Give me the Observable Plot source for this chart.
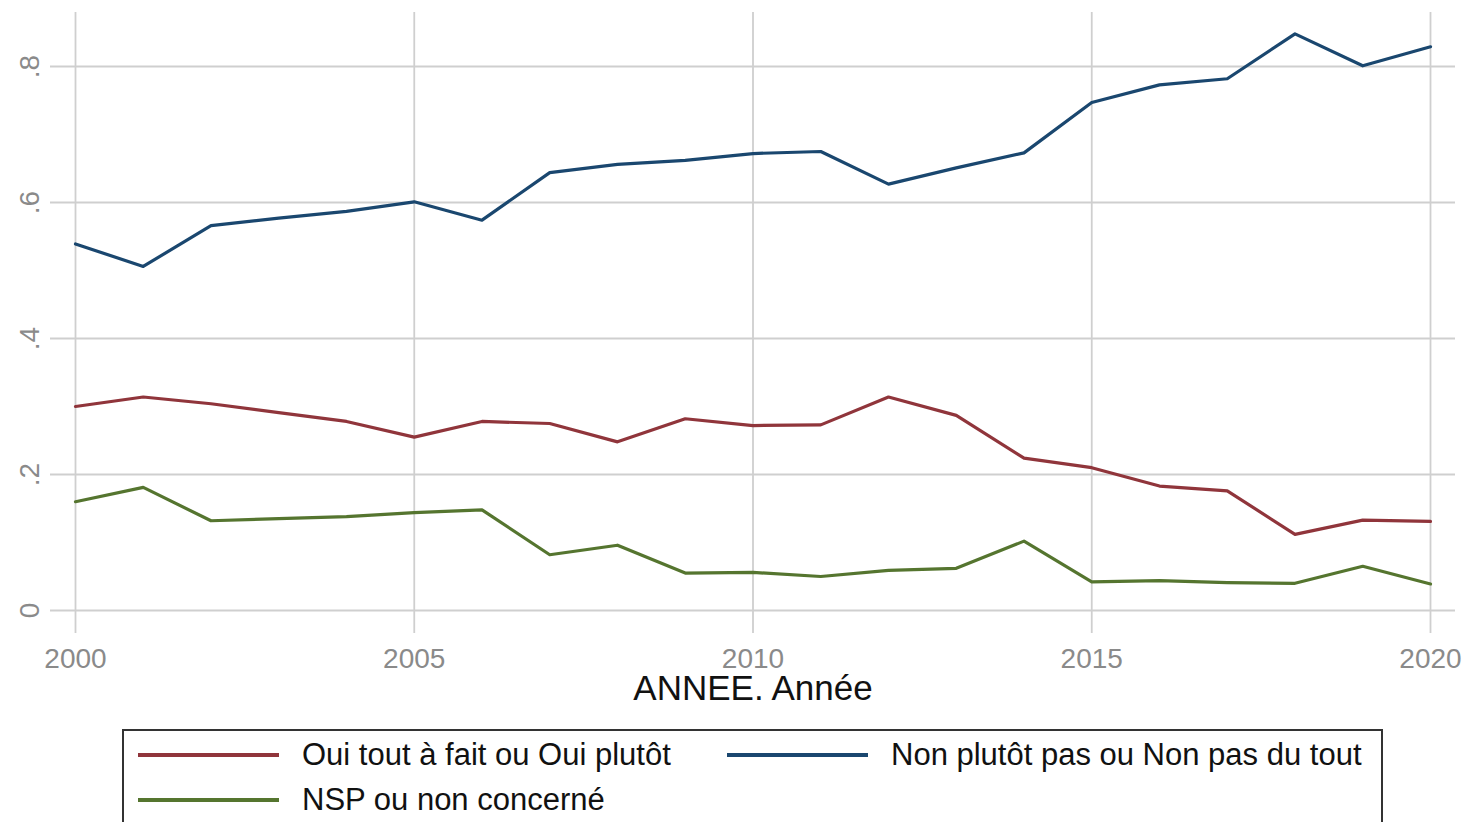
<!DOCTYPE html>
<html>
<head>
<meta charset="utf-8">
<script src="https://cdn.jsdelivr.net/npm/d3@7"></script>
<script src="https://cdn.jsdelivr.net/npm/@observablehq/plot@0.6"></script>
<style>
  html, body { margin: 0; padding: 0; background: #fff; }
  body { width: 1468px; height: 822px; overflow: hidden; font-family: "Liberation Sans", Arial, sans-serif; }
  #legend { position: relative; margin-left: 122px; width: 1257px; height: 120px; border: 2px solid #333; box-sizing: content-box; }
  .item { position: absolute; display: flex; align-items: center; }
  .swatch { width: 141px; height: 3.5px; margin-right: 23px; }
  .lbl { font-size: 31px; color: #111; white-space: nowrap; }
</style>
</head>
<body>
<div id="chart"></div>
<div id="legend"></div>
<script>
const years = [2000,2001,2002,2003,2004,2005,2006,2007,2008,2009,2010,2011,2012,2013,2014,2015,2016,2017,2018,2019,2020];
const oui = [0.300,0.314,0.304,0.291,0.278,0.255,0.278,0.275,0.248,0.282,0.272,0.273,0.314,0.287,0.224,0.210,0.183,0.176,0.112,0.133,0.131];
const non = [0.539,0.506,0.566,0.577,0.587,0.601,0.574,0.644,0.656,0.662,0.672,0.675,0.627,0.651,0.673,0.747,0.773,0.782,0.848,0.801,0.829];
const nsp = [0.160,0.181,0.132,0.135,0.138,0.144,0.148,0.082,0.096,0.055,0.056,0.050,0.059,0.062,0.102,0.042,0.044,0.041,0.040,0.065,0.039];

const seriesNames = ["Oui tout à fait ou Oui plutôt", "Non plutôt pas ou Non pas du tout", "NSP ou non concerné"];
const seriesColors = ["#90353b", "#1a476f", "#55752f"];
const seriesValues = [oui, non, nsp];

const xTicks = [2000, 2005, 2010, 2015, 2020];
const yTicks = [0, 0.2, 0.4, 0.6, 0.8];
const yTickLabels = ["0", ".2", ".4", ".6", ".8"];
const xTitle = "ANNEE. Année";

const rows = [];
seriesNames.forEach((name, i) => {
  years.forEach((yr, j) => rows.push({year: yr, value: seriesValues[i][j], series: name}));
});

const plot = Plot.plot({
  width: 1468,
  height: 712,
  marginTop: 12,
  marginBottom: 79,
  marginLeft: 50,
  marginRight: 13,
  style: {fontFamily: "'Liberation Sans', Arial, sans-serif", background: "#fff"},
  x: {domain: [2000, 2020], insetLeft: 25, insetRight: 25},
  y: {domain: [0, 0.8], insetTop: 54, insetBottom: 23},
  color: {domain: seriesNames, range: seriesColors},
  marks: [
    Plot.gridX(xTicks, {stroke: "#cfcfcf", strokeOpacity: 1, strokeWidth: 1.8}),
    Plot.gridY(yTicks, {stroke: "#cfcfcf", strokeOpacity: 1, strokeWidth: 1.8}),
    Plot.axisX(xTicks, {tickSize: 0, tickPadding: 15, fontSize: 28, color: "#8a8a8a", label: null, tickFormat: d => String(d)}),
    Plot.axisY({ticks: [], label: null, tickSize: 0}),
    Plot.text(yTicks, {y: d => d, text: (d, i) => yTickLabels[i], frameAnchor: "left", textAnchor: "middle", lineAnchor: "middle", dx: -20, rotate: -90, fontSize: 28, fill: "#8a8a8a"}),
    Plot.text([xTitle], {text: d => d, frameAnchor: "bottom", lineAnchor: "top", dy: 42, fontSize: 35, fill: "#111"}),
    Plot.line(rows, {x: "year", y: "value", z: "series", stroke: "series", strokeWidth: 3.2, curve: "linear"})
  ]
});
document.getElementById("chart").appendChild(plot);

const legend = document.getElementById("legend");
legend.style.marginTop = "17px";
const pos = [{left: 14, top: 6}, {left: 603, top: 6}, {left: 14, top: 51}];
seriesNames.forEach((name, i) => {
  const it = document.createElement("div");
  it.className = "item";
  it.style.left = pos[i].left + "px";
  it.style.top = pos[i].top + "px";
  const sw = document.createElement("div");
  sw.className = "swatch";
  sw.style.background = seriesColors[i];
  const lb = document.createElement("div");
  lb.className = "lbl";
  lb.textContent = name;
  it.appendChild(sw); it.appendChild(lb);
  legend.appendChild(it);
});
</script>
</body>
</html>
